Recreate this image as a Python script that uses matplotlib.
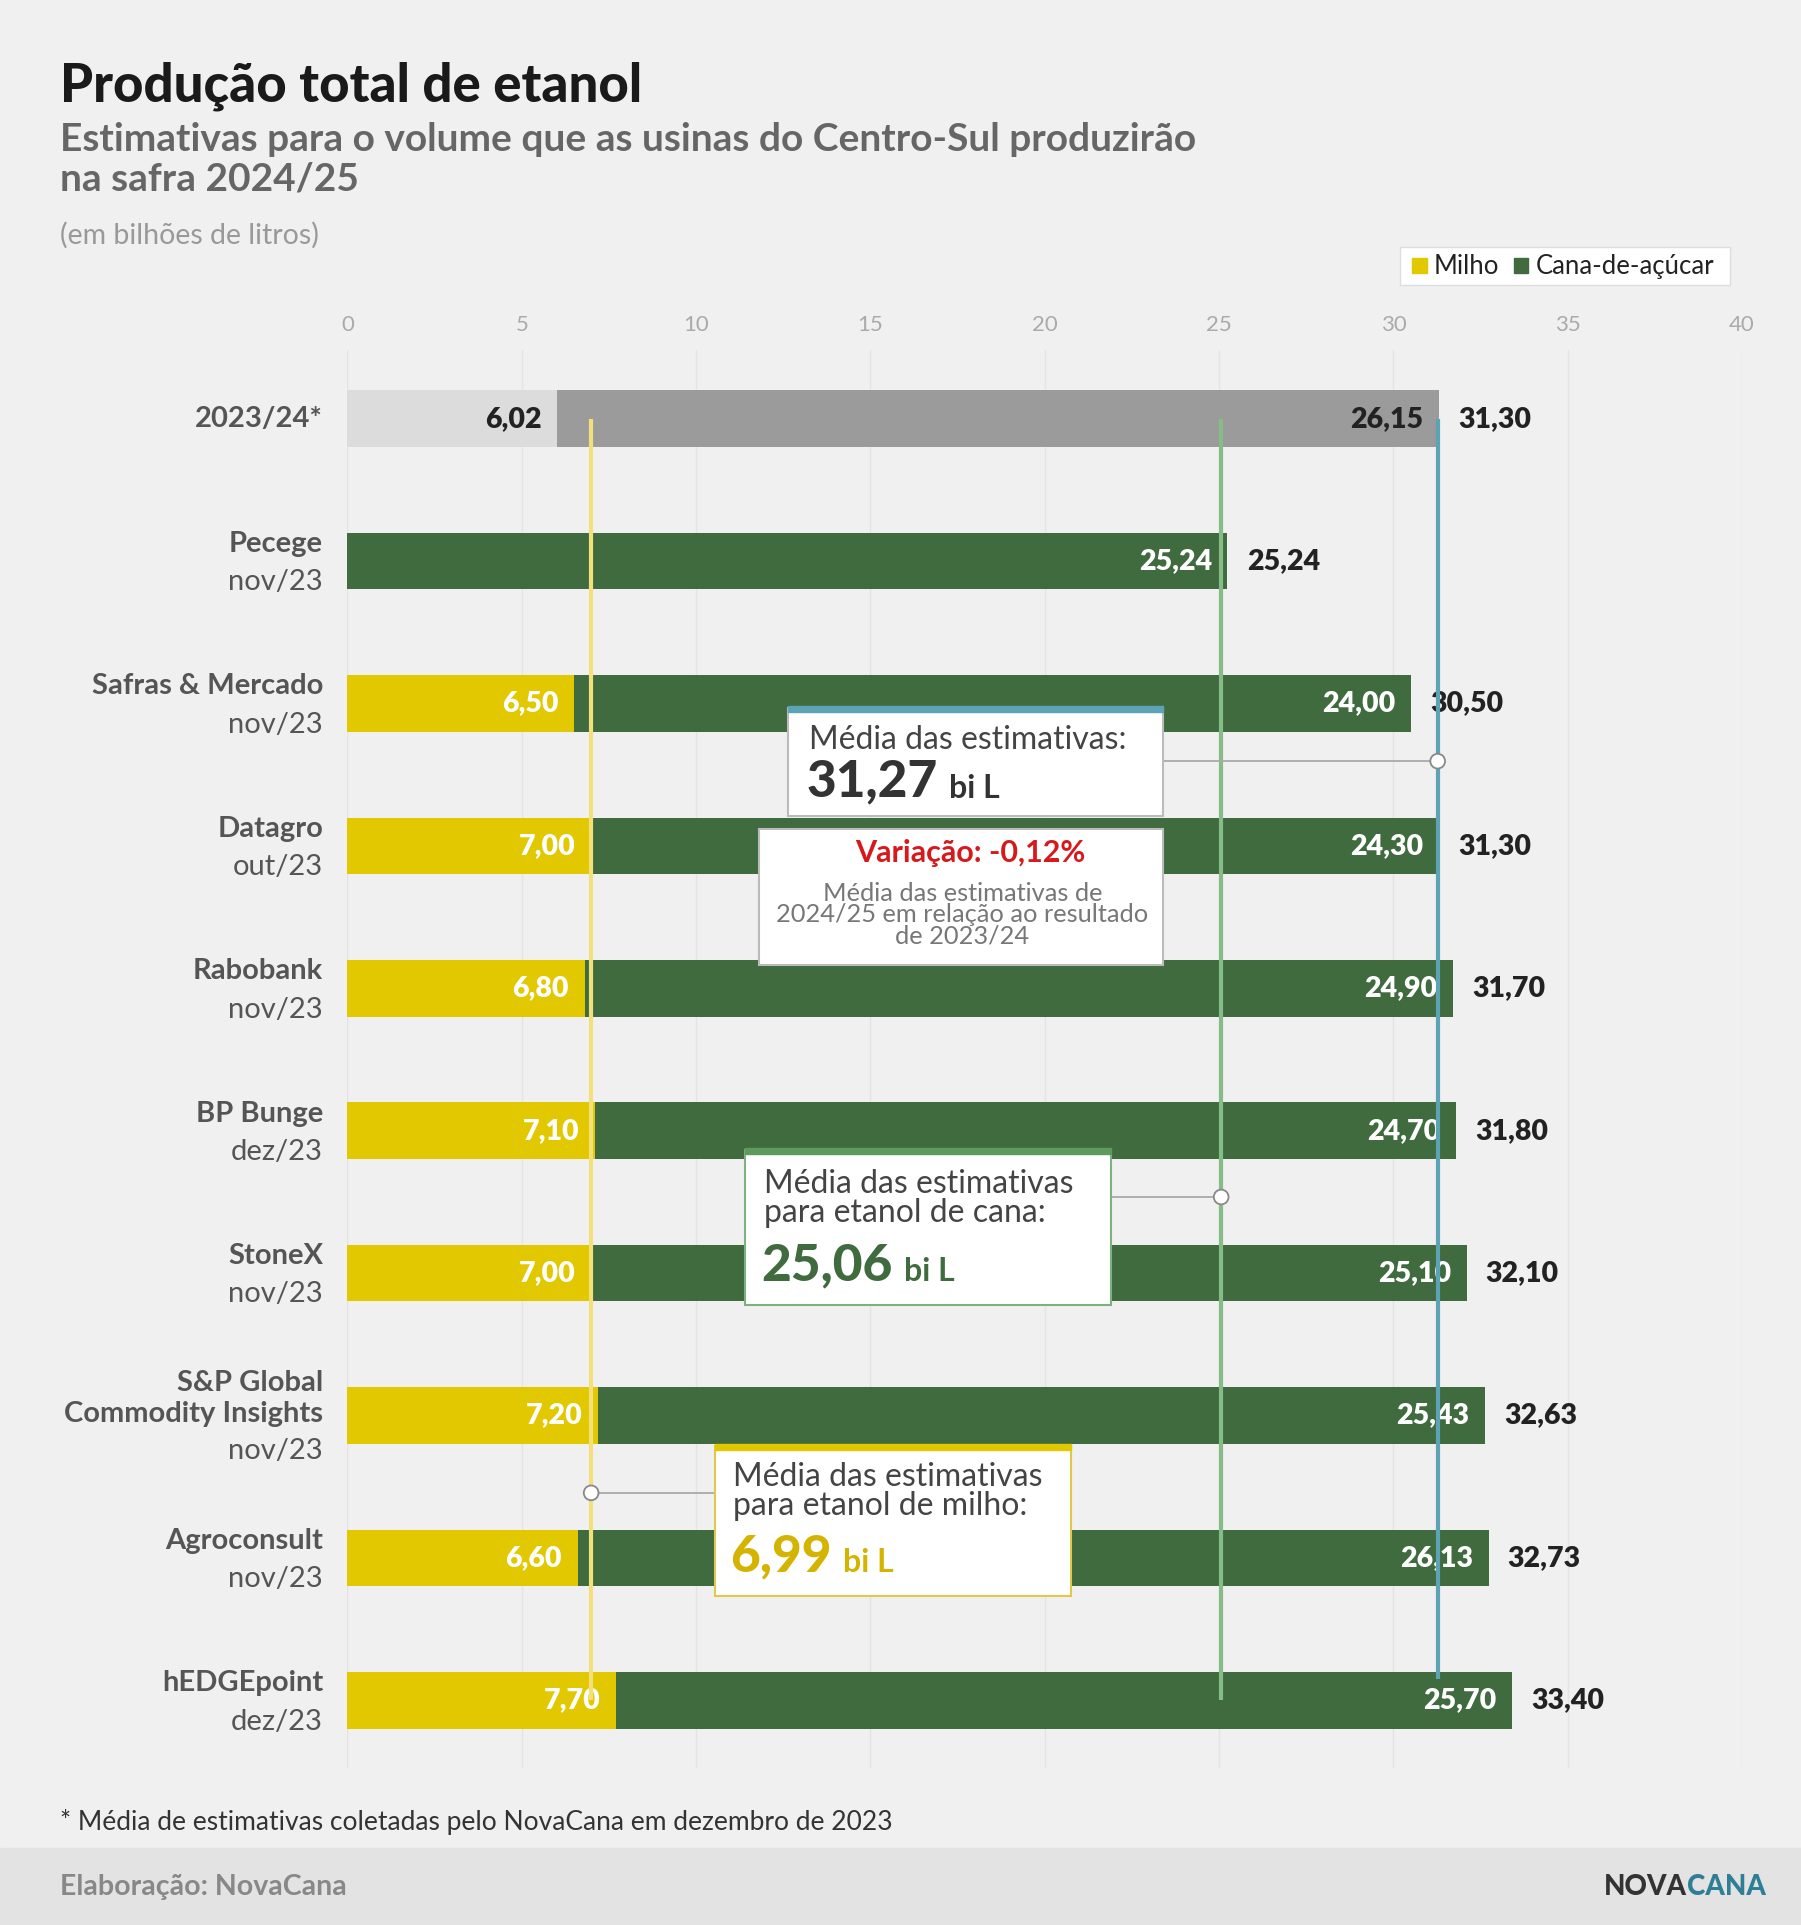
import matplotlib.pyplot as plt
from matplotlib.patches import Rectangle, Circle

plt.rcParams['font.family'] = ['Lato', 'DejaVu Sans']

fontes = ["2023/24*", "Pecege", "Safras & Mercado", "Datagro", "Rabobank", "BP Bunge",
          "StoneX", "S&P Global\nCommodity Insights", "Agroconsult", "hEDGEpoint"]
datas = ["", "nov/23", "nov/23", "out/23", "nov/23", "dez/23", "nov/23", "nov/23", "nov/23", "dez/23"]
milho = [6.02, 0, 6.50, 7.00, 6.80, 7.10, 7.00, 7.20, 6.60, 7.70]
cana = [26.15, 25.24, 24.00, 24.30, 24.90, 24.70, 25.10, 25.43, 26.13, 25.70]
total = [31.30, 25.24, 30.50, 31.30, 31.70, 31.80, 32.10, 32.63, 32.73, 33.40]
media_total = 31.27
media_cana = 25.06
media_milho = 6.99
variacao = "-0,12%"

AMARELO = "#E2C800"
VERDE = "#3F6B3E"
AZUL = "#5BA3B5"
ESCURO = "#222222"
CINZA = "#555555"

W, H = 1467, 1568
fig = plt.figure(figsize=(18.01, 19.25), dpi=100, facecolor="#F0F0F0")

def fmt(v):
    return f"{v:.2f}".replace(".", ",")

# main axes
x0, x1 = 283, 1419
yt, yb = 285, 1440
ax = fig.add_axes([x0 / W, 1 - yb / H, (x1 - x0) / W, (yb - yt) / H])
ax.set_facecolor("none")
ax.set_xlim(0, 40)
ax.set_ylim((yb - 341) / 116, (yt - 341) / 116)
for s in ax.spines.values():
    s.set_visible(False)
ax.xaxis.tick_top()
ax.set_xticks(range(0, 41, 5))
ax.tick_params(axis="x", length=0, labelsize=16, labelcolor="#AAAAAA", pad=11)
ax.set_yticks([])
ax.grid(axis="x", color="#E4E4E4", lw=1)
ax.set_axisbelow(True)

bh = 46 / 116
VS = 20.5
LS = 21
for i in range(len(fontes)):
    if i == 0:
        c1, c2, tc = "#DCDCDC", "#9B9B9B", ESCURO
    else:
        c1, c2, tc = AMARELO, VERDE, "white"
    ax.barh(i, milho[i], height=bh, color=c1)
    ax.barh(i, total[i] - milho[i], left=milho[i], height=bh, color=c2)
    if milho[i] > 0:
        ax.text(milho[i] - 0.45, i, fmt(milho[i]), ha="right", va="center",
                fontsize=VS, fontweight="heavy", color=tc)
    ax.text(total[i] - 0.45, i, fmt(cana[i]), ha="right", va="center",
            fontsize=VS, fontweight="heavy", color=tc)
    ax.text(total[i] + 0.55, i, fmt(total[i]), ha="left", va="center",
            fontsize=VS, fontweight="heavy", color=ESCURO)
    if "\n" in fontes[i]:
        l1, l2 = fontes[i].split("\n")
        ax.text(-0.7, i - 0.23, l1, ha="right", va="center", fontsize=LS, fontweight="bold", color=CINZA)
        ax.text(-0.7, i - 0.01, l2, ha="right", va="center", fontsize=LS, fontweight="bold", color=CINZA)
        ax.text(-0.7, i + 0.25, datas[i], ha="right", va="center", fontsize=LS, color=CINZA)
    elif datas[i]:
        ax.text(-0.7, i - 0.12, fontes[i], ha="right", va="center", fontsize=LS,
                fontweight="bold", color=CINZA)
        ax.text(-0.7, i + 0.15, datas[i], ha="right", va="center", fontsize=LS, color=CINZA)
    else:
        ax.text(-0.7, i, fontes[i], ha="right", va="center", fontsize=LS,
                fontweight="bold", color=CINZA)

ax.vlines(media_milho, 0, 9, color="#F3E07A", lw=3, zorder=3)
ax.vlines(media_cana, 0, 9, color="#86BD86", lw=3, zorder=3)
ax.vlines(media_total, 0, 8.85, color=AZUL, lw=3, zorder=3)

# overlay in pixel coordinates
ov = fig.add_axes([0, 0, 1, 1], facecolor="none")
ov.set_xlim(0, W)
ov.set_ylim(H, 0)
ov.axis("off")

def px(v):
    return x0 + v * (x1 - x0) / 40

ov.add_patch(Rectangle((0, 1505), W, 63, color="#E3E3E3", zorder=0))
ov.text(49, 70, "Produção total de etanol", fontsize=38, fontweight="black", color="#1A1A1A", va="center")
ov.text(49, 130, "Estimativas para o volume que as usinas do Centro-Sul produzirão\nna safra 2024/25",
        fontsize=28, fontweight="bold", color="#666666", va="center", linespacing=1.15)
ov.text(49, 192, "(em bilhões de litros)", fontsize=20.5, color="#999999", va="center")

# legend
ov.add_patch(Rectangle((1140, 201), 269, 31, fc="white", ec="#DDDDDD", lw=1))
ov.add_patch(Rectangle((1150, 210), 12, 12, color=AMARELO))
ov.text(1168, 217, "Milho", fontsize=18.5, va="center", color=ESCURO)
ov.add_patch(Rectangle((1233, 210), 12, 12, color=VERDE))
ov.text(1251, 217, "Cana-de-açúcar", fontsize=18.5, va="center", color=ESCURO)

def caixa(xa, ya, xb, yb2, ec, top=None):
    ov.add_patch(Rectangle((xa, ya), xb - xa, yb2 - ya, fc="white", ec=ec, lw=1.5, zorder=5))
    if top:
        ov.add_patch(Rectangle((xa, ya - 2), xb - xa, 5, color=top, zorder=6))

def ponto(xa, xb, y):
    ov.plot([xa, xb], [y, y], color="#AAAAAA", lw=1.3, zorder=4)
    ov.add_patch(Circle((xb, y), 6, fc="white", ec="#888888", lw=1.3, zorder=7))

BS = 23
NS = 37
# media total
ponto(947, px(media_total), 620)
caixa(642, 577, 947, 665, "#BBBBBB", AZUL)
ov.text(659, 603, "Média das estimativas:", fontsize=BS, color="#444444", va="center", zorder=8)
ov.text(657, 637, fmt(media_total), fontsize=NS, fontweight="black", color="#333333", va="center", zorder=8)
ov.text(773, 642, "bi L", fontsize=BS, fontweight="bold", color="#333333", va="center", zorder=8)

# variacao
caixa(618, 675, 947, 786, "#BBBBBB")
ov.text(790, 695, "Variação: " + variacao, fontsize=22, fontweight="bold", color="#D7191C",
        ha="center", va="center", zorder=8)
ov.text(784, 745, "Média das estimativas de\n2024/25 em relação ao resultado\nde 2023/24", fontsize=18.3,
        color="#777777", ha="center", va="center", zorder=8, linespacing=0.9)

# media cana
ponto(905, px(media_cana), 975)
caixa(607, 937, 905, 1063, "#7FB07F", "#5E9A5E")
ov.text(622, 976, "Média das estimativas\npara etanol de cana:", fontsize=BS, color="#444444",
        va="center", zorder=8, linespacing=0.95)
ov.text(620, 1031, fmt(media_cana), fontsize=NS, fontweight="black", color=VERDE, va="center", zorder=8)
ov.text(736, 1036, "bi L", fontsize=BS, fontweight="bold", color=VERDE, va="center", zorder=8)

# media milho
ponto(582, px(media_milho), 1216)
caixa(582, 1178, 872, 1300, "#E2C84A", AMARELO)
ov.text(597, 1215, "Média das estimativas\npara etanol de milho:", fontsize=BS, color="#444444",
        va="center", zorder=8, linespacing=0.95)
ov.text(595, 1268, fmt(media_milho), fontsize=NS, fontweight="black", color="#D4B400", va="center", zorder=8)
ov.text(687, 1273, "bi L", fontsize=BS, fontweight="bold", color="#D4B400", va="center", zorder=8)

ov.text(49, 1484, "* Média de estimativas coletadas pelo NovaCana em dezembro de 2023",
        fontsize=19, color="#333333", va="center")
ov.text(49, 1537, "Elaboração: NovaCana", fontsize=20.5, fontweight="bold", color="#888888", va="center")
ov.text(1374, 1537, "NOVA", fontsize=20, fontweight="black", color="#333333", va="center", ha="right")
ov.text(1374, 1537, "CANA", fontsize=20, fontweight="black", color="#2E7F95", va="center", ha="left")

fig.savefig("out.png", dpi=100, facecolor=fig.get_facecolor())
